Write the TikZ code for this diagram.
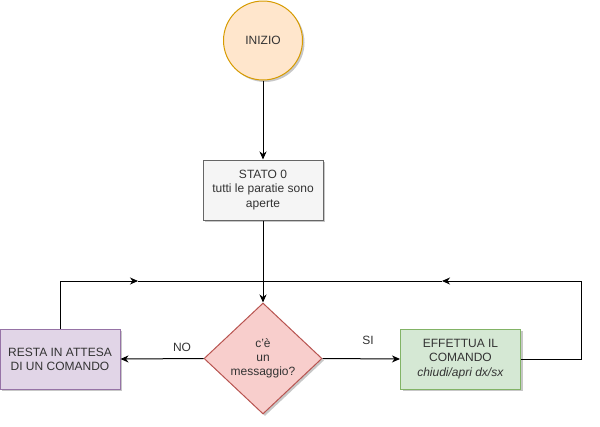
\documentclass[tikz,border=0pt]{standalone}
\usepackage{fontspec}
\setmainfont{Liberation Sans}
\usetikzlibrary{arrows.meta,shapes.geometric,shadows}
\definecolor{txt}{HTML}{333333}
\definecolor{orfill}{HTML}{FFE6CC}\definecolor{ordraw}{HTML}{D79B00}
\definecolor{gyfill}{HTML}{F5F5F5}\definecolor{gydraw}{HTML}{666666}
\definecolor{rdfill}{HTML}{F8CECC}\definecolor{rddraw}{HTML}{B85450}
\definecolor{pufill}{HTML}{E1D5E7}\definecolor{pudraw}{HTML}{9673A6}
\definecolor{grfill}{HTML}{D5E8D4}\definecolor{grdraw}{HTML}{82B366}
\begin{document}
\begin{tikzpicture}[x=1pt,y=-1pt,
  font=\fontsize{12}{14.2}\selectfont, text=txt,
  shad/.style={drop shadow={shadow xshift=2pt,shadow yshift=-2pt,opacity=0.22,fill=black}},
  box/.style={draw, line width=1pt, minimum width=120pt, minimum height=60pt, inner sep=0pt, align=center, shad},
  arr/.style={line width=1pt, -{Stealth[length=8pt,width=7pt,inset=2.5pt]}},
  ln/.style={line width=1pt},
  lbl/.style={inner sep=0pt}]
\useasboundingbox (0,0) rectangle (600,426);
\node[circle, draw=ordraw, fill=orfill, line width=1pt, minimum size=79pt, inner sep=0pt, shad] (start) at (263,40.5) {INIZIO};
\node[box, draw=gydraw, fill=gyfill] (stato) at (263,190) {STATO 0\\tutti le paratie sono\\aperte};
\node[diamond, draw=rddraw, fill=rddraw!0!rdfill, fill=rdfill, line width=1pt, minimum width=118pt, minimum height=111pt, inner sep=0pt, align=center, shad] (dec) at (263,358.5) {c'è\\un\\messaggio?};
\node[box, draw=pudraw, fill=pufill] (resta) at (60,359) {RESTA IN ATTESA\\DI UN COMANDO};
\node[box, draw=grdraw, fill=grfill] (eff) at (460.5,359) {EFFETTUA IL\\COMANDO\\\textit{chiudi/apri dx/sx}};
\coordinate (jl) at (263,281);
\coordinate (la) at (138,281);
\coordinate (lb) at (442,281);
\coordinate (rc1) at (581,359);
\coordinate (rc2) at (581,281);
\draw[arr] (start.south) -- (stato.north);
\draw[arr] (stato.south) -- (dec.north);
\draw[arr] (dec.west) -- (resta.east);
\draw[arr] (dec.east) -- (eff.west);
\draw[arr] (resta.north) |- (la);
\draw[ln] (la) -- (jl);
\draw[arr] (eff.east) -- (rc1) -- (rc2) -- (lb);
\draw[ln] (lb) -- (jl);
\node[lbl] (no) at (182,347) {NO};
\node[lbl] (si) at (368,340) {SI};
\end{tikzpicture}
\end{document}
